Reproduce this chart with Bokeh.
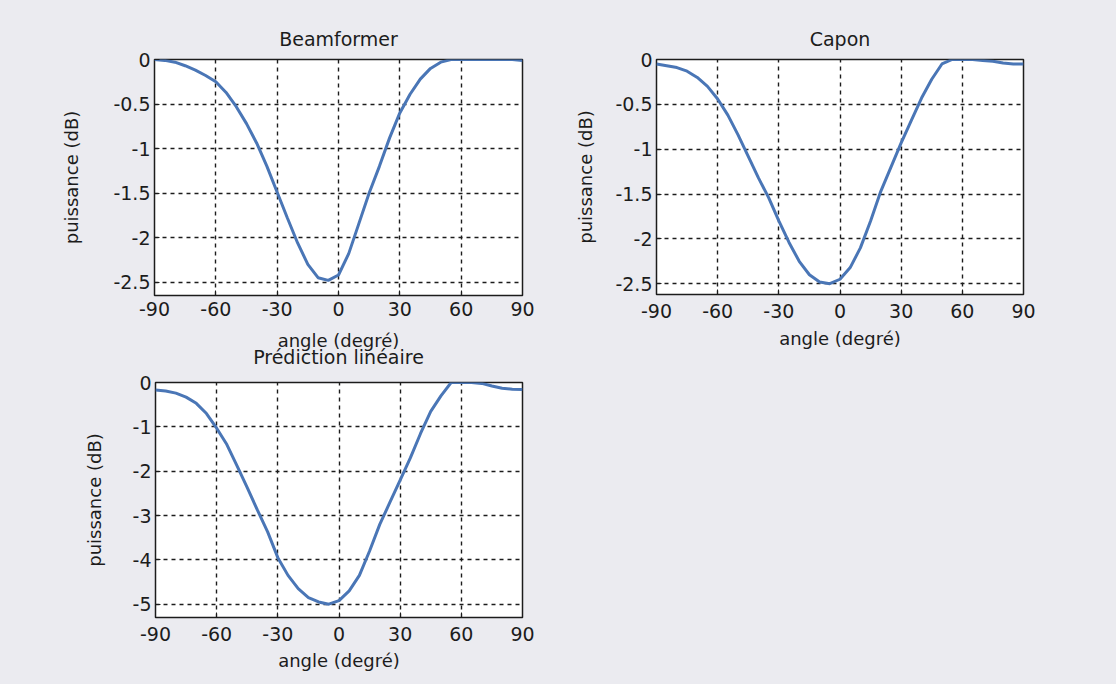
from bokeh.plotting import figure
from bokeh.layouts import column, row
from bokeh.models import Title, FixedTicker
from bokeh.embed import file_html
from bokeh.resources import INLINE

# Angles (degrees) and normalised power (dB) for each estimator
angles = [-90, -85, -80, -75, -70, -65, -60, -55, -50, -45, -40, -35, -30,
          -25, -20, -15, -10, -5, 0, 5, 10, 15, 20, 25, 30, 35, 40, 45,
          50, 55, 60, 65, 70, 75, 80, 85, 90]

beamformer = [0.0, -0.01, -0.03, -0.07, -0.12, -0.18, -0.25, -0.37, -0.53,
              -0.72, -0.94, -1.2, -1.49, -1.78, -2.06, -2.3, -2.45, -2.48,
              -2.42, -2.18, -1.84, -1.5, -1.2, -0.88, -0.6, -0.39, -0.22,
              -0.1, -0.03, 0.0, 0.0, 0.0, 0.0, 0.0, 0.0, 0.0, -0.01]

capon = [-0.05, -0.07, -0.09, -0.13, -0.2, -0.3, -0.44, -0.62, -0.84,
         -1.08, -1.32, -1.54, -1.8, -2.04, -2.25, -2.4, -2.48, -2.5, -2.45,
         -2.32, -2.1, -1.8, -1.47, -1.2, -0.93, -0.68, -0.43, -0.22, -0.05,
         0.0, 0.0, 0.0, -0.01, -0.02, -0.04, -0.05, -0.05]

prediction = [-0.17, -0.19, -0.24, -0.33, -0.47, -0.7, -1.03, -1.4, -1.88,
              -2.37, -2.88, -3.37, -3.95, -4.35, -4.65, -4.85, -4.95, -5.0,
              -4.92, -4.7, -4.35, -3.8, -3.2, -2.7, -2.2, -1.7, -1.15, -0.65,
              -0.3, 0.0, 0.0, 0.0, -0.02, -0.08, -0.13, -0.15, -0.16]

x_ticks = [-90, -60, -30, 0, 30, 60, 90]
y_ticks_small = [0, -0.5, -1, -1.5, -2, -2.5]
y_labels_small = ["0", "-0.5", "-1", "-1.5", "-2", "-2.5"]
y_ticks_large = [0, -1, -2, -3, -4, -5]
y_labels_large = ["0", "-1", "-2", "-3", "-4", "-5"]

BG = "#ebebf0"
INK = "#1c1c1c"
CURVE = "#4a76b6"
FONT = "DejaVu Sans"


def panel(title, ys, yr, yticks, ylabels, fw, fh, left, right, top, bottom,
          tick_gap, xlab_gap, ylab_gap):
    p = figure(frame_width=fw, frame_height=fh, x_range=(-90, 90), y_range=yr,
               output_backend="svg", toolbar_location=None,
               min_border_left=left, min_border_right=right,
               min_border_top=top, min_border_bottom=bottom,
               background_fill_color="white", border_fill_color=BG,
               outline_line_color=INK, outline_line_width=1.5)
    if title:
        p.title.text = title
        p.title.align = "center"
        p.title.text_font = FONT
        p.title.text_font_size = "19px"
        p.title.text_font_style = "normal"
        p.title.text_color = INK
        p.title.standoff = 19
    p.line(angles, ys, line_color=CURVE, line_width=3)

    p.xaxis.ticker = FixedTicker(ticks=x_ticks)
    p.yaxis.ticker = FixedTicker(ticks=yticks)
    p.yaxis.major_label_overrides = {t: l for t, l in zip(yticks, ylabels)}
    p.xaxis.major_label_overrides = {t: str(t) for t in x_ticks}
    p.xaxis.axis_label = "angle (degré)"
    p.yaxis.axis_label = "puissance (dB)"
    for ax in (p.xaxis[0], p.yaxis[0]):
        ax.axis_line_color = None
        ax.major_tick_in = 5
        ax.major_tick_out = 0
        ax.major_tick_line_color = INK
        ax.minor_tick_line_color = None
        ax.major_label_text_font = FONT
        ax.major_label_text_font_size = "19px"
        ax.major_label_text_color = INK
        ax.axis_label_text_font = FONT
        ax.axis_label_text_font_size = "18px"
        ax.axis_label_text_font_style = "normal"
        ax.axis_label_text_color = INK
    p.xaxis.major_label_standoff = tick_gap
    p.yaxis.major_label_standoff = 4
    p.xaxis.axis_label_standoff = xlab_gap
    p.yaxis.axis_label_standoff = ylab_gap

    for g in (p.xgrid[0], p.ygrid[0]):
        g.grid_line_color = INK
        g.grid_line_dash = "4 4"
        g.grid_line_width = 1.4
    p.xgrid.ticker = FixedTicker(ticks=x_ticks)
    p.ygrid.ticker = FixedTicker(ticks=yticks)
    return p


p1 = panel("Beamformer", beamformer, (-2.65, 0), y_ticks_small, y_labels_small,
           368, 236, 154, 48, 59, 73, 6, 11, 28)
p2 = panel("Capon", capon, (-2.62, 0), y_ticks_small, y_labels_small,
           367, 235, 86, 93, 57, 76, 9, 7, 16)
p3 = panel(None, prediction, (-5.3, 0), y_ticks_large, y_labels_large,
           367, 235, 155, 594, 14, 67, 9, 6, 25)

# Heading of the lower panel, tucked right under the first panel's axis label
p1.add_layout(Title(text="Prédiction linéaire", align="center",
                    text_font=FONT, text_font_size="19px",
                    text_font_style="normal", text_color=INK,
                    standoff=-19), "below")

layout = column(row(p1, p2), p3, styles={"background-color": BG})

open("out.html", "w").write(file_html(layout, INLINE))
